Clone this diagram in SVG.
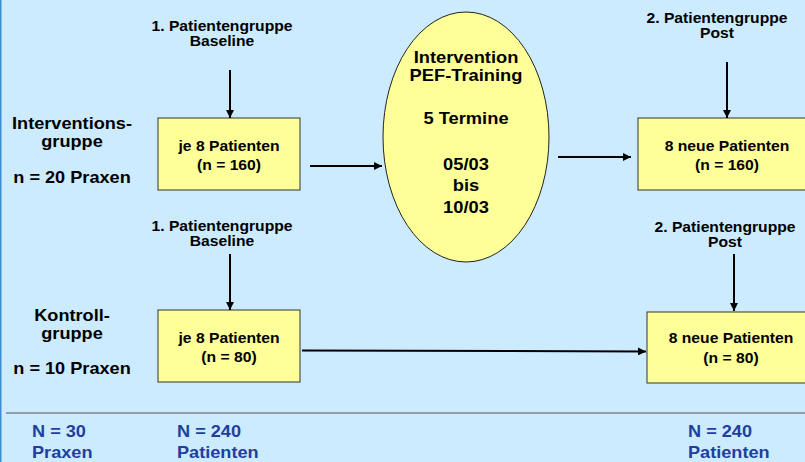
<svg xmlns="http://www.w3.org/2000/svg" width="805" height="462" viewBox="0 0 805 462">
<defs>
<style>
text{font-family:"Liberation Sans",Arial,sans-serif;font-weight:bold;fill:#000;text-anchor:middle}
.s{font-size:14px}
.l{font-size:16.5px}
.e{font-size:16.5px}
.b{font-size:16.5px;fill:#1F3F9F;text-anchor:start}
.box{fill:#FFFF99;stroke:#333;stroke-width:1}
.c{stroke:#000;stroke-width:2;fill:none}
</style>
<marker id="ah" viewBox="0 0 10 10" refX="10" refY="5" markerWidth="4" markerHeight="4" orient="auto" markerUnits="strokeWidth">
<path d="M0,0 L10,5 L0,10 z" fill="#000"/>
</marker>
</defs>
<rect x="0" y="0" width="805" height="462" fill="#CCEBFF"/>
<line x1="0.75" y1="0" x2="0.75" y2="462" stroke="#3C8CD8" stroke-width="1.5"/>

<g id="label-intervention-group">
<g transform="translate(72,0) scale(1.1,1)">
<text class="l" x="0" y="129">Interventions-</text>
<text class="l" x="0" y="147">gruppe</text>
<text class="l" x="0" y="183">n = 20 Praxen</text>
</g>
</g>
<g id="label-control-group">
<g transform="translate(72,0) scale(1.1,1)">
<text class="l" x="0" y="321">Kontroll-</text>
<text class="l" x="0" y="339">gruppe</text>
<text class="l" x="0" y="374">n = 10 Praxen</text>
</g>
</g>

<g id="label-baseline-1">
<g transform="translate(222,0) scale(1.12,1)">
<text class="s" x="0" y="31">1. Patientengruppe</text>
<text class="s" x="0" y="46">Baseline</text>
</g>
</g>
<g id="label-baseline-2">
<g transform="translate(222,0) scale(1.12,1)">
<text class="s" x="0" y="231">1. Patientengruppe</text>
<text class="s" x="0" y="246">Baseline</text>
</g>
</g>
<g id="label-post-1">
<g transform="translate(717,0) scale(1.12,1)">
<text class="s" x="0" y="23">2. Patientengruppe</text>
<text class="s" x="0" y="38">Post</text>
</g>
</g>
<g id="label-post-2">
<g transform="translate(725,0) scale(1.12,1)">
<text class="s" x="0" y="232">2. Patientengruppe</text>
<text class="s" x="0" y="247">Post</text>
</g>
</g>

<g id="box-int-baseline">
<rect class="box" x="158" y="118" width="142" height="72"/>
<g transform="translate(229,0) scale(1.12,1)">
<text class="s" x="0" y="151">je 8 Patienten</text>
<text class="s" x="0" y="170">(n = 160)</text>
</g>
</g>
<g id="box-ctrl-baseline">
<rect class="box" x="158" y="310" width="142" height="72"/>
<g transform="translate(229,0) scale(1.12,1)">
<text class="s" x="0" y="343">je 8 Patienten</text>
<text class="s" x="0" y="362">(n = 80)</text>
</g>
</g>
<g id="intervention">
<ellipse cx="466" cy="137" rx="83" ry="125" fill="#FFFF99" stroke="#222" stroke-width="1"/>
<g transform="translate(466,0) scale(1.11,1)">
<text class="e" x="0" y="63.5">Intervention</text>
<text class="e" x="0" y="81">PEF-Training</text>
<text class="e" x="0" y="124">5 Termine</text>
<text class="e" x="0" y="170">05/03</text>
<text class="e" x="0" y="191">bis</text>
<text class="e" x="0" y="213">10/03</text>
</g>
</g>
<g id="box-int-post">
<rect class="box" x="638" y="118" width="175" height="72"/>
<g transform="translate(727,0) scale(1.12,1)">
<text class="s" x="0" y="151">8 neue Patienten</text>
<text class="s" x="0" y="170">(n = 160)</text>
</g>
</g>
<g id="box-ctrl-post">
<rect class="box" x="647" y="312" width="170" height="71"/>
<g transform="translate(731,0) scale(1.12,1)">
<text class="s" x="0" y="343">8 neue Patienten</text>
<text class="s" x="0" y="363">(n = 80)</text>
</g>
</g>

<g id="connectors">
<line class="c" x1="230" y1="70" x2="230" y2="118" marker-end="url(#ah)"/>
<line class="c" x1="230" y1="254" x2="230" y2="310" marker-end="url(#ah)"/>
<line class="c" x1="727" y1="62" x2="727" y2="118" marker-end="url(#ah)"/>
<line class="c" x1="734" y1="254" x2="734" y2="311" marker-end="url(#ah)"/>
<line class="c" x1="310" y1="166" x2="382" y2="166" marker-end="url(#ah)"/>
<line class="c" x1="558" y1="157" x2="631" y2="157" marker-end="url(#ah)"/>
<line class="c" x1="302" y1="350.5" x2="646" y2="351.5" marker-end="url(#ah)"/>
</g>

<line x1="6" y1="413" x2="805" y2="413" stroke="#555" stroke-width="1.2"/>
<g id="totals">
<g transform="translate(32,0) scale(1.1,1)">
<text class="b" x="0" y="437">N = 30</text>
<text class="b" x="0" y="458">Praxen</text>
</g>
<g transform="translate(177,0) scale(1.1,1)">
<text class="b" x="0" y="437">N = 240</text>
<text class="b" x="0" y="458">Patienten</text>
</g>
<g transform="translate(688,0) scale(1.1,1)">
<text class="b" x="0" y="437">N = 240</text>
<text class="b" x="0" y="458">Patienten</text>
</g>
</g>
</svg>
